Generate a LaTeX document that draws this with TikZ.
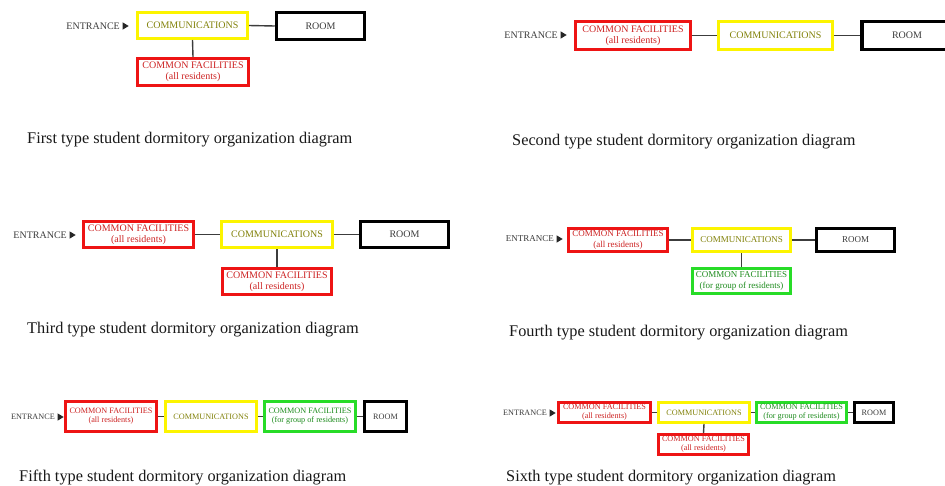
\documentclass[tikz,border=0pt]{standalone}
\usepackage{fontspec}
\setmainfont{Liberation Serif}
\usetikzlibrary{calc}
\definecolor{bred}{RGB}{238,20,20}
\definecolor{byel}{RGB}{252,244,0}
\definecolor{bgrn}{RGB}{40,220,40}
\definecolor{tred}{RGB}{205,35,35}
\definecolor{tyel}{RGB}{130,130,10}
\definecolor{tgrn}{RGB}{30,140,30}
\definecolor{tblk}{RGB}{60,60,60}
\definecolor{lnk}{RGB}{60,60,60}
\tikzset{
  bx/.style={draw, line width=3pt, inner sep=0pt, align=center, fill=white},
  redbx/.style={bx, draw=bred, text=tred},
  yelbx/.style={bx, draw=byel, text=tyel},
  grnbx/.style={bx, draw=bgrn, text=tgrn},
  roombx/.style={bx, draw=black, line width=3.5pt, text=tblk},
  ent/.style={inner sep=0pt, anchor=east, text=tblk},
  tri/.style={fill=black!85},
  lk/.style={draw=lnk, line width=1.4pt},
  captxt/.style={anchor=base west, inner sep=0pt, font=\fontsize{16.3}{18}\selectfont, text=black!90},
  fA/.style={font=\fontsize{10}{11}\selectfont},
  fB/.style={font=\fontsize{9}{10.2}\selectfont},
  fC/.style={font=\fontsize{8.2}{9.2}\selectfont},
}
\newcommand{\entrarrow}[1]{\fill[tri] ($(#1.east)+(2.5,-3.7)$) -- ++(0,7.4) -- ++(6.2,-3.7) -- cycle;}
\begin{document}
\begin{tikzpicture}[x=1pt,y=-1pt]
\useasboundingbox[fill=white] (0,0) rectangle (945,485);

% ---------- Diagram 1 ----------
\node[ent, fA] (e1) at (120,26) {ENTRANCE};
\entrarrow{e1}
\node[yelbx, fA, minimum width=110pt, minimum height=26pt] (c1) at (192.5,25.5) {COMMUNICATIONS};
\node[roombx, fA, minimum width=88pt, minimum height=27pt] (r1) at (320.5,26) {ROOM};
\node[redbx, fA, minimum width=111pt, minimum height=27pt] (f1) at (193,72) {COMMON FACILITIES\\(all residents)};
\draw[lk] (c1.east) -- (r1.west);
\draw[lk] (c1.south) -- (f1.north);

% ---------- Diagram 2 ----------
\node[ent, fA] (e2) at (558,35) {ENTRANCE};
\entrarrow{e2}
\node[redbx, fA, minimum width=115pt, minimum height=28pt] (f2) at (633,35.5) {COMMON FACILITIES\\(all residents)};
\node[yelbx, fA, minimum width=114pt, minimum height=28pt] (c2) at (775.5,35.5) {COMMUNICATIONS};
\node[roombx, fA, minimum width=90pt, minimum height=28pt] (r2) at (907,35.5) {ROOM};
\draw[lk] (f2.east) -- (c2.west);
\draw[lk] (c2.east) -- (r2.west);

% ---------- Diagram 3 ----------
\node[ent, fA] (e3) at (67,235) {ENTRANCE};
\entrarrow{e3}
\node[redbx, fA, minimum width=110pt, minimum height=26pt] (f3) at (138.5,234.5) {COMMON FACILITIES\\(all residents)};
\node[yelbx, fA, minimum width=111pt, minimum height=26pt] (c3) at (277,234.5) {COMMUNICATIONS};
\node[roombx, fA, minimum width=88pt, minimum height=26pt] (r3) at (404.5,234.5) {ROOM};
\node[redbx, fA, minimum width=109pt, minimum height=26pt] (g3) at (277,281.5) {COMMON FACILITIES\\(all residents)};
\draw[lk] (f3.east) -- (c3.west);
\draw[lk] (c3.east) -- (r3.west);
\draw[lk] (c3.south) -- (g3.north);

% ---------- Diagram 4 ----------
\node[ent, fB] (e4) at (554,239) {ENTRANCE};
\entrarrow{e4}
\node[redbx, fB, minimum width=99pt, minimum height=23pt] (f4) at (618,240) {COMMON FACILITIES\\(all residents)};
\node[yelbx, fB, minimum width=98pt, minimum height=23pt] (c4) at (741.5,240) {COMMUNICATIONS};
\node[roombx, fB, minimum width=78pt, minimum height=23pt] (r4) at (855.5,240) {ROOM};
\node[grnbx, fB, minimum width=98pt, minimum height=25pt] (g4) at (741.5,281) {COMMON FACILITIES\\(for group of residents)};
\draw[lk] (f4.east) -- (c4.west);
\draw[lk] (c4.east) -- (r4.west);
\draw[lk] (c4.south) -- (g4.north);

% ---------- Diagram 5 ----------
\node[ent, fC] (e5) at (55,417) {ENTRANCE};
\entrarrow{e5}
\node[redbx, fC, minimum width=91pt, minimum height=30pt] (f5) at (111,416.5) {COMMON FACILITIES\\(all residents)};
\node[yelbx, fC, minimum width=91pt, minimum height=30pt] (c5) at (211,416.5) {COMMUNICATIONS};
\node[grnbx, fC, minimum width=91pt, minimum height=30pt] (g5) at (310,416.5) {COMMON FACILITIES\\(for group of residents)};
\node[roombx, fC, minimum width=42pt, minimum height=30pt] (r5) at (385.5,416.5) {ROOM};
\draw[lk] (f5.east) -- (c5.west);
\draw[lk] (c5.east) -- (g5.west);
\draw[lk] (g5.east) -- (r5.west);

% ---------- Diagram 6 ----------
\node[ent, fC] (e6) at (547,413) {ENTRANCE};
\entrarrow{e6}
\node[redbx, fC, minimum width=92pt, minimum height=20pt] (f6) at (604.5,412.5) {COMMON FACILITIES\\(all residents)};
\node[yelbx, fC, minimum width=91pt, minimum height=20pt] (c6) at (704,412.5) {COMMUNICATIONS};
\node[grnbx, fC, minimum width=90pt, minimum height=20pt] (g6) at (801.5,412.5) {COMMON FACILITIES\\(for group of residents)};
\node[roombx, fC, minimum width=39pt, minimum height=20pt] (r6) at (874,412.5) {ROOM};
\node[redbx, fC, minimum width=90pt, minimum height=20pt] (h6) at (703.5,444.5) {COMMON FACILITIES\\(all residents)};
\draw[lk] (f6.east) -- (c6.west);
\draw[lk] (c6.east) -- (g6.west);
\draw[lk] (g6.east) -- (r6.west);
\draw[lk] (c6.south) -- (h6.north);

% ---------- Captions ----------
\node[captxt] (k1) at (27,143) {First type student dormitory organization diagram};
\node[captxt] (k2) at (512,145) {Second type student dormitory organization diagram};
\node[captxt] (k3) at (27,333) {Third type student dormitory organization diagram};
\node[captxt] (k4) at (509,336) {Fourth type student dormitory organization diagram};
\node[captxt] (k5) at (19,481) {Fifth type student dormitory organization diagram};
\node[captxt] (k6) at (506,481) {Sixth type student dormitory organization diagram};
\end{tikzpicture}
\end{document}
